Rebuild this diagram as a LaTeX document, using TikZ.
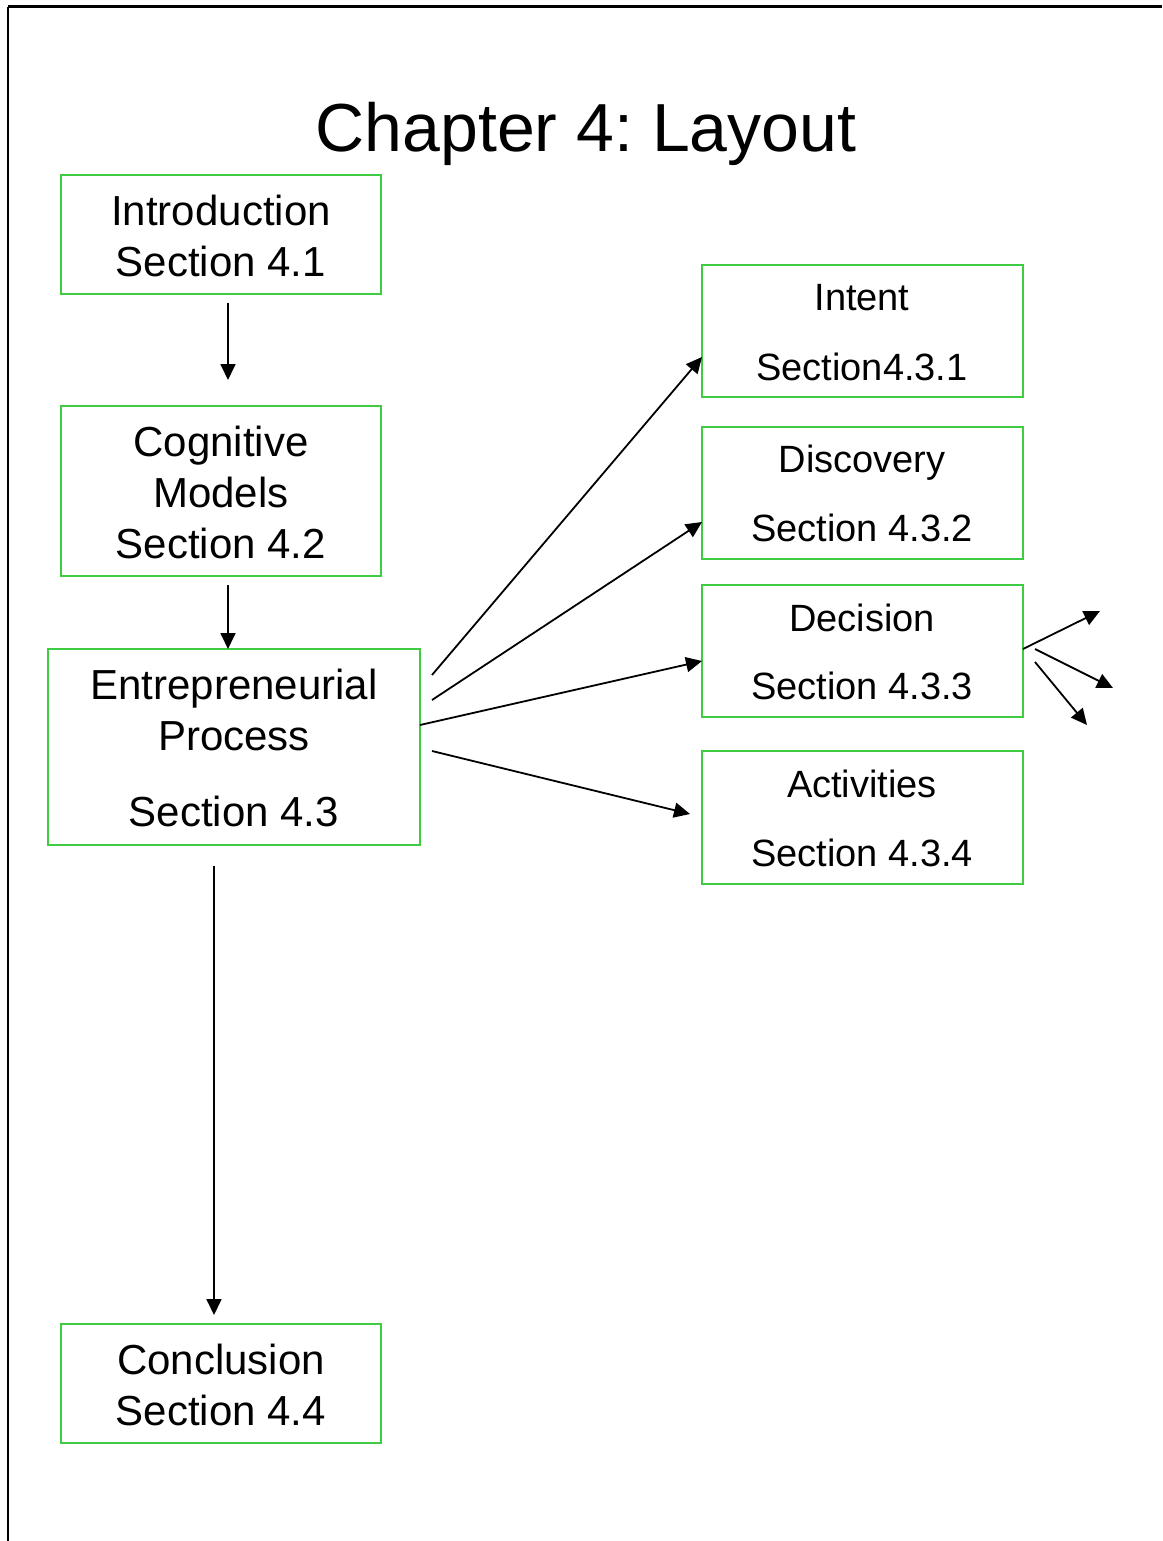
\documentclass[tikz,border=0pt]{standalone}
\usepackage{fontspec}
\setmainfont{Liberation Sans}
\usetikzlibrary{arrows.meta}
\definecolor{boxgreen}{RGB}{64,204,64}
\frenchspacing
\begin{document}
\begin{tikzpicture}[x=1pt,y=-1pt,
  sbox/.style={draw=boxgreen,line width=1.6pt},
  big/.style={anchor=base,inner sep=0pt,font=\fontsize{42}{50}\selectfont},
  mid/.style={anchor=base,inner sep=0pt,font=\fontsize{38}{46}\selectfont},
  conn/.style={line width=1.8pt,-{Triangle[length=16pt,width=15pt]}}]
\useasboundingbox (0,0) rectangle (1162,1541);
\fill[white] (0,0) rectangle (1162,1541);
\draw[line width=3pt] (8,7) -- (1162,7);
\draw[line width=2.6pt] (8,7) -- (8,1541);
\node[anchor=base,inner sep=0pt,font=\fontsize{68}{80}\selectfont] (title) at (586,152) {Chapter 4: Layout};
% left boxes
\draw[sbox] (61,175) rectangle (381,294);
\node[big] (t1a) at (221,225) {Introduction};
\node[big] (t1b) at (221,276) {Section 4.1};
\draw[sbox] (61,406) rectangle (381,576);
\node[big] (t2a) at (221,456) {Cognitive};
\node[big] (t2b) at (221,507) {Models};
\node[big] (t2c) at (221,558) {Section 4.2};
\draw[sbox] (48,649) rectangle (420,845);
\node[big] (t3a) at (234,699) {Entrepreneurial};
\node[big] (t3b) at (234,750) {Process};
\node[big] (t3c) at (234,826) {Section 4.3};
\draw[sbox] (61,1324) rectangle (381,1443);
\node[big] (t4a) at (221,1374) {Conclusion};
\node[big] (t4b) at (221,1425) {Section 4.4};
% right boxes
\draw[sbox] (702,265) rectangle (1023,397);
\node[mid] (r1a) at (862,310) {Intent};
\node[mid] (r1b) at (862,380) {Section4.3.1};
\draw[sbox] (702,427) rectangle (1023,559);
\node[mid] (r2a) at (862,472) {Discovery};
\node[mid] (r2b) at (862,541) {Section 4.3.2};
\draw[sbox] (702,585) rectangle (1023,717);
\node[mid] (r3a) at (862,631) {Decision};
\node[mid] (r3b) at (862,699) {Section 4.3.3};
\draw[sbox] (702,751) rectangle (1023,884);
\node[mid] (r4a) at (862,797) {Activities};
\node[mid] (r4b) at (862,866) {Section 4.3.4};
% connector coordinates
\coordinate (a1s) at (228,303); \coordinate (a1e) at (228,380);
\coordinate (a2s) at (228,585); \coordinate (a2e) at (228,649);
\coordinate (a3s) at (214,866); \coordinate (a3e) at (214,1315);
\coordinate (f1s) at (432,675); \coordinate (f1e) at (702,357);
\coordinate (f2s) at (432,700); \coordinate (f2e) at (702,522);
\coordinate (f3s) at (420,725); \coordinate (f3e) at (702,661);
\coordinate (f4s) at (432,751); \coordinate (f4e) at (690,814);
\coordinate (d1s) at (1023,649); \coordinate (d1e) at (1100,611);
\coordinate (d2s) at (1035,649); \coordinate (d2e) at (1113,688);
\coordinate (d3s) at (1035,662); \coordinate (d3e) at (1087,725);
\foreach \s/\e in {a1s/a1e,a2s/a2e,a3s/a3e,f1s/f1e,f2s/f2e,f3s/f3e,f4s/f4e,d1s/d1e,d2s/d2e,d3s/d3e}
  \draw[conn] (\s) -- (\e);
\end{tikzpicture}
\end{document}
